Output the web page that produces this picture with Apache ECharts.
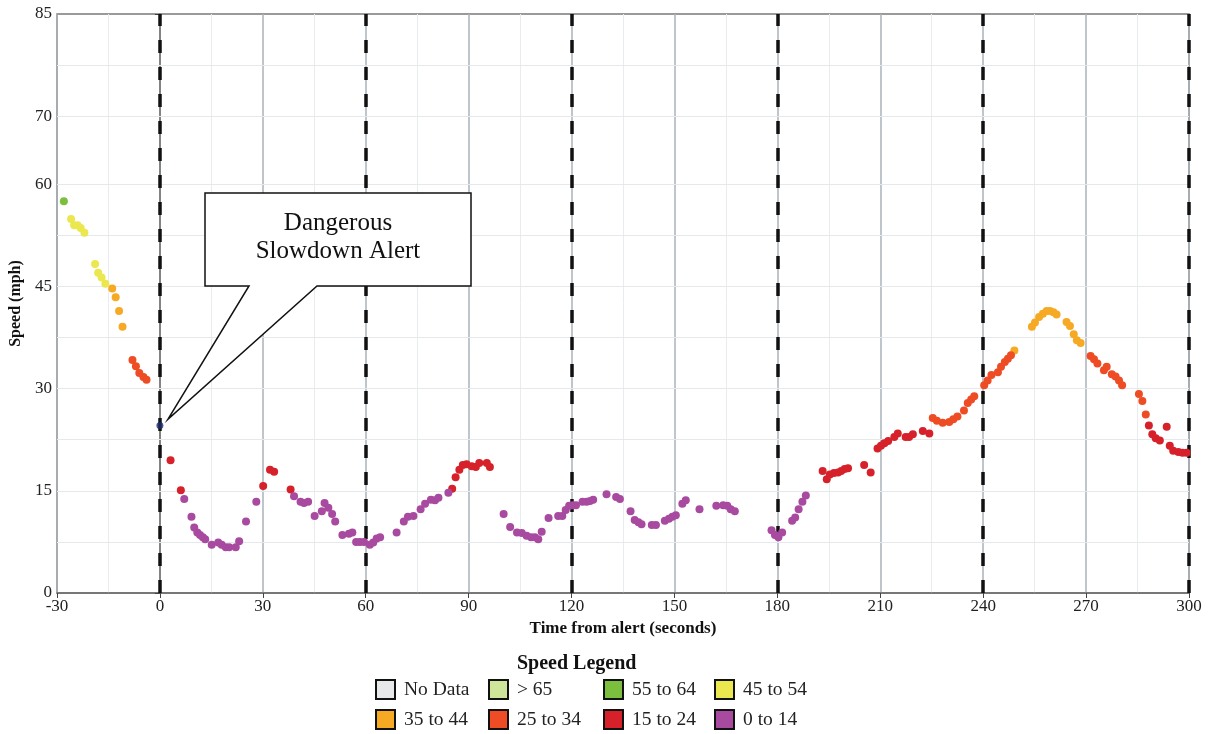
<!DOCTYPE html>
<html>
<head>
<meta charset="utf-8">
<script src="https://cdn.jsdelivr.net/npm/echarts@6/dist/echarts.min.js"></script>
<style>
  html, body { margin: 0; padding: 0; background: #fff; }
  #main { width: 1210px; height: 734px; }
</style>
</head>
<body>
<div id="main"></div>
<script>
// time from alert (s) and speed (mph) for every probe reading
const timeSec = [
  -28, -25.9, -25, -24, -23.1, -22, -18.9, -18, -17, -15.9, -13.9, -12.9, -11.9, -10.9, -8, -7, -6, -4.8, -3.9,
  3.1, 6.1, 7.1, 9.2, 10, 10.9, 11.7, 12.5, 13.2, 15.1, 17, 18, 19.2, 20.2, 22.1, 23.1, 25.1, 28.1,
  30.1, 32.1, 33.3, 38.1, 39.1, 41, 42, 43.2, 45.1, 47.2, 48, 49.1, 50.2, 51.1, 53.2, 55.1, 56.1, 57.2, 58.3, 59.5,
  61.2, 62.2, 63.2, 64.2, 69, 71.1, 72.3, 73.9, 76, 77.3, 79, 80.2, 81.2, 84.1, 85.2, 86.2, 87.3, 88.3, 89.4,
  90.9, 92.1, 93.1, 95.3, 96.2, 100.2, 102.1, 104.1, 105.5, 106.9, 108.2, 109.3, 110.3, 111.3, 113.3, 116.1, 117.3, 118.3, 119.3,
  120.3, 121.3, 123.2, 124.4, 125.4, 126.3, 130.2, 133, 134.1, 137.2, 138.4, 139.5, 140.4, 143.4, 144.6, 147.2, 148.4, 149.4,
  150.4, 152.3, 153.3, 157.3, 162.2, 164.2, 165.4, 166.4, 167.6, 178.3, 179.3,
  180.3, 181.4, 184.3, 185.2, 186.2, 187.3, 188.3, 193.2, 194.4, 195.3, 196.5, 197.7, 198.6, 199.6, 200.6, 205.3, 207.2, 209.2,
  210.2, 211.2, 212.3, 214.1, 215.1, 217.4, 218.4, 219.5, 222.4, 224.3, 225.3, 226.5, 228.2, 230.1, 231.3, 232.5, 234.4, 235.5, 236.5, 237.4,
  240.3, 241.3, 242.4, 244.3, 245.2, 246.3, 247.2, 248.1, 249.1, 254.2, 255.1, 256.3, 257.4, 258.5, 259.5, 260.5, 261.4, 264.3, 265.3, 266.4, 267.3, 268.4,
  271.3, 272.3, 273.3, 275.2, 276, 277.5, 278.6, 279.6, 280.5, 285.4, 286.4, 287.4, 288.3, 289.3, 290.3, 291.5, 293.5, 294.4, 295.4, 296.9, 298.1, 299.3
];
const speedMph = [
  57.5, 54.9, 54.0, 54.0, 53.6, 52.9, 48.3, 47.0, 46.3, 45.4, 44.7, 43.4, 41.4, 39.1, 34.2, 33.3, 32.3, 31.7, 31.3,
  19.5, 15.1, 13.8, 11.2, 9.6, 8.9, 8.5, 8.2, 7.9, 7.1, 7.4, 7.1, 6.7, 6.7, 6.7, 7.6, 10.5, 13.4,
  15.7, 18.1, 17.8, 15.2, 14.2, 13.4, 13.2, 13.4, 11.3, 12.0, 13.2, 12.5, 11.6, 10.5, 8.5, 8.7, 8.9, 7.5, 7.5, 7.5,
  7.1, 7.4, 8.0, 8.2, 8.9, 10.5, 11.2, 11.3, 12.3, 13.1, 13.7, 13.6, 14.0, 14.7, 15.3, 17.0, 18.1, 18.8, 18.9,
  18.6, 18.5, 19.1, 19.1, 18.5, 11.6, 9.7, 8.9, 8.8, 8.4, 8.2, 8.2, 7.9, 9.0, 11.0, 11.3, 11.3, 12.2, 12.8,
  12.9, 12.9, 13.4, 13.4, 13.5, 13.7, 14.5, 14.1, 13.8, 12.0, 10.7, 10.4, 10.1, 10.0, 10.0, 10.6, 10.9, 11.2,
  11.4, 13.1, 13.6, 12.3, 12.8, 12.9, 12.8, 12.3, 12.0, 9.2, 8.5,
  8.2, 8.9, 10.6, 11.1, 12.3, 13.4, 14.3, 17.9, 16.7, 17.4, 17.6, 17.7, 17.9, 18.2, 18.3, 18.8, 17.7, 21.2,
  21.6, 22.0, 22.3, 22.9, 23.4, 22.9, 22.9, 23.3, 23.8, 23.4, 25.7, 25.3, 25.0, 25.1, 25.5, 25.9, 26.8, 27.9, 28.4, 28.9,
  30.5, 31.2, 32.0, 32.4, 33.2, 33.9, 34.4, 34.9, 35.6, 39.1, 39.7, 40.5, 41.0, 41.4, 41.4, 41.2, 40.9, 39.8, 39.2, 38.0, 37.1, 36.7,
  34.8, 34.3, 33.7, 32.7, 33.2, 32.1, 31.8, 31.2, 30.5, 29.2, 28.2, 26.2, 24.6, 23.3, 22.7, 22.4, 24.4, 21.6, 20.9, 20.7, 20.6, 20.6
];

// the alert moment
const alertTime = [0];
const alertSpeed = [24.6];

// speed bands shown in the legend (lower bound, null = no data)
const bandNames = ['No Data', '> 65', '55 to 64', '45 to 54', '35 to 44', '25 to 34', '15 to 24', '0 to 14'];
const bandLow = [null, 65, 55, 45, 35, 25, 15, 0];
const bandColors = ['#e6e8ea', '#cfe59a', '#7cbf3f', '#ebe74e', '#f6aa24', '#ee4c24', '#d7212a', '#a84a9f'];

// axis ticks and reference lines
const yTicks = [0, 15, 30, 45, 60, 70, 85];
const yGrid = [7.5, 15, 22.5, 30, 37.5, 45, 52.5, 60, 70, 77.5];
const minuteMarks = [0, 60, 120, 180, 240, 300];

const FONT = 'Liberation Serif';
const legendCols = [375, 488, 603, 714];

// split points into bands
const bandData = bandNames.map(() => []);
timeSec.forEach((t, i) => {
  const v = speedMph[i];
  for (let b = 1; b < bandLow.length; b++) {
    if (v >= bandLow[b]) { bandData[b].push([t, v]); break; }
  }
});

var chartDom = document.getElementById('main');
var myChart = echarts.init(chartDom);

const bandSeries = bandNames.map((name, b) => ({
  name: name,
  type: 'scatter',
  symbolSize: 8,
  z: 5,
  itemStyle: { color: bandColors[b], opacity: 1 },
  data: bandData[b]
}));

// one legend box per item so the columns line up like the original
const legends = bandNames.map((name, b) => ({
  data: [name],
  left: legendCols[b % 4],
  top: 679 + Math.floor(b / 4) * 30,
  padding: 0,
  icon: 'rect',
  itemWidth: 19,
  itemHeight: 19,
  selectedMode: false,
  itemStyle: { borderColor: '#111', borderWidth: 2 },
  textStyle: { fontFamily: FONT, fontSize: 19.5, color: '#222', padding: [0, 0, 0, 4] }
}));

var option = {
  animation: false,
  title: {
    text: 'Speed Legend',
    left: 512,
    top: 649,
    textStyle: { fontFamily: FONT, fontSize: 20, fontWeight: 'bold', color: '#111' }
  },
  legend: legends,
  grid: {
    left: 57, right: 21, top: 14, bottom: 141,
    show: true, borderColor: '#7a7a7a', borderWidth: 1.5
  },
  xAxis: {
    type: 'value',
    min: -30, max: 300, interval: 30,
    name: 'Time from alert (seconds)',
    nameLocation: 'middle',
    nameGap: 26,
    nameTextStyle: { fontFamily: FONT, fontSize: 17, fontWeight: 'bold', color: '#111' },
    axisLine: { lineStyle: { color: '#6e6e6e', width: 1.5 } },
    axisTick: { show: true, length: 5, lineStyle: { color: '#444' } },
    axisLabel: { fontFamily: FONT, fontSize: 17, color: '#222', margin: 5 },
    splitLine: { show: true, lineStyle: { color: '#a9b3ba', width: 1.5 } },
    minorTick: { show: false, splitNumber: 2 },
    minorSplitLine: { show: true, lineStyle: { color: '#e8ecef', width: 1 } }
  },
  yAxis: {
    type: 'value',
    min: 0, max: 85,
    name: 'Speed (mph)',
    nameLocation: 'middle',
    nameGap: 31,
    nameTextStyle: { fontFamily: FONT, fontSize: 16, fontWeight: 'bold', color: '#111' },
    axisLine: { show: true, lineStyle: { color: '#6e6e6e', width: 1.5 } },
    axisTick: { show: true, length: 5, customValues: yTicks, lineStyle: { color: '#444' } },
    axisLabel: { fontFamily: FONT, fontSize: 17, color: '#222', margin: 5, customValues: yTicks },
    splitLine: { show: false }
  },
  series: [
    {
      name: 'grid',
      type: 'scatter',
      data: [],
      z: 1,
      markLine: {
        silent: true,
        symbol: ['none', 'none'],
        label: { show: false },
        lineStyle: { color: '#e6e9ec', width: 1.2, type: 'solid' },
        data: yGrid.map(v => ({ yAxis: v }))
      }
    },
    {
      name: 'minutes',
      type: 'scatter',
      data: [],
      z: 2,
      markLine: {
        silent: true,
        symbol: ['none', 'none'],
        label: { show: false },
        lineStyle: { color: '#111', width: 3.5, type: [13, 14] },
        data: minuteMarks.map(v => ({ xAxis: v }))
      }
    },
    ...bandSeries,
    {
      name: 'alert',
      type: 'scatter',
      symbolSize: 7,
      z: 6,
      itemStyle: { color: '#1d2a6a' },
      data: alertTime.map((t, i) => [t, alertSpeed[i]])
    }
  ]
};
option && myChart.setOption(option);

// callout box pointing at the alert reading
const tip = myChart.convertToPixel({ gridIndex: 0 }, [alertTime[0], alertSpeed[0]]);
const bx0 = 205, by0 = 193, bx1 = 471, by1 = 286;
myChart.setOption({
  graphic: [
    {
      type: 'polygon',
      z: 100,
      shape: {
        points: [[bx0, by0], [bx1, by0], [bx1, by1], [317, by1], [tip[0] + 8, tip[1] - 6], [249, by1], [bx0, by1]]
      },
      style: { fill: '#fff', stroke: '#111', lineWidth: 1.5 }
    },
    {
      type: 'text',
      z: 101,
      x: (bx0 + bx1) / 2,
      y: (by0 + by1) / 2 - 2,
      style: {
        text: 'Dangerous\nSlowdown Alert',
        fontFamily: FONT,
        fontSize: 25,
        lineHeight: 28,
        fill: '#111',
        align: 'center',
        verticalAlign: 'middle'
      }
    }
  ]
});
</script>
</body>
</html>
